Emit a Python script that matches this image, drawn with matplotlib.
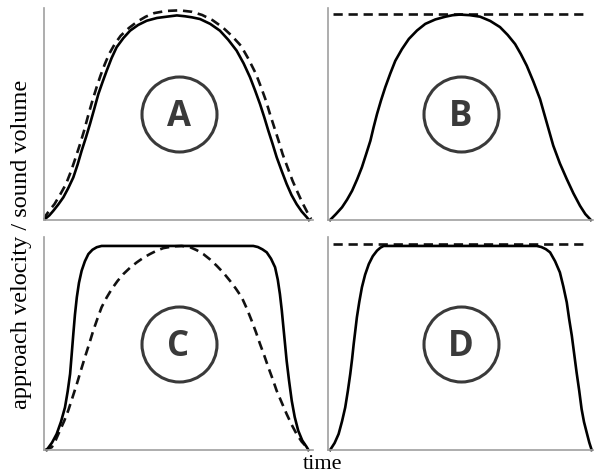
import matplotlib
matplotlib.use('Agg')
import matplotlib.pyplot as plt

# Courbes (temps 0-100, volume 0-100)
a_solid_t = [0.4, 2.0, 3.5, 5.3, 7.2, 9.0, 10.9, 12.5, 14.0, 15.6, 17.1, 18.7, 20.2, 21.8,
             23.3, 25.1, 27.0, 29.5, 32.0, 35.0, 38.2, 42.0, 45.6, 49.4, 52.4, 55.0, 58.0,
             61.8, 65.4, 68.5, 71.6, 74.2, 76.6, 78.5, 80.3, 81.9, 83.4, 85.0, 86.5, 88.4,
             90.2, 92.0, 93.9, 95.8, 97.7, 98.5]
a_solid_v = [0.5, 2.2, 4.4, 7.3, 10.7, 15.0, 20.1, 26.2, 32.7, 39.0, 45.3, 52.5, 59.4, 65.2,
             70.4, 76.3, 81.5, 85.8, 89.3, 92.0, 94.0, 95.3, 95.9, 96.5, 96.1, 95.6, 94.8,
             92.5, 89.3, 85.0, 79.9, 73.9, 67.3, 61.0, 54.7, 48.4, 42.1, 35.8, 29.6, 23.0,
             17.0, 11.8, 7.5, 4.0, 1.3, 0.0]
a_dash_t = [0.2, 0.6, 2.0, 3.9, 6.0, 8.2, 10.1, 11.8, 13.4, 14.9, 16.4, 18.0, 19.5, 21.0,
            22.6, 24.2, 26.3, 28.5, 31.5, 34.7, 37.8, 41.0, 45.3, 50.4, 55.0, 58.8, 62.6,
            66.4, 69.8, 73.2, 76.0, 78.8, 80.7, 82.5, 84.0, 85.6, 87.2, 88.7, 90.6, 92.4,
            94.3, 96.1, 97.9, 99.3]
a_dash_v = [0.0, 2.0, 4.5, 7.5, 12.0, 17.0, 23.2, 29.6, 35.8, 42.1, 49.2, 56.3, 62.4, 68.1,
            73.5, 78.3, 83.0, 86.9, 90.5, 93.6, 95.9, 97.6, 98.6, 98.9, 98.2, 96.7, 94.3,
            90.9, 86.9, 82.2, 76.0, 68.9, 62.6, 56.3, 50.0, 43.7, 37.4, 31.1, 24.6, 18.5,
            13.0, 8.0, 3.6, 0.5]

b_solid_t = [0.8, 3.0, 5.3, 7.2, 9.1, 11.0, 12.8, 14.4, 16.0, 17.2, 18.5, 20.0, 21.6, 23.5,
             25.4, 27.9, 30.5, 33.6, 36.7, 40.5, 44.3, 47.0, 49.8, 53.6, 57.4, 61.2, 64.9,
             67.8, 70.6, 72.8, 75.0, 77.5, 80.0, 82.5, 85.0, 87.5, 90.1, 92.6, 95.1, 97.1,
             99.2]
b_solid_v = [0.0, 2.8, 6.0, 9.6, 13.8, 19.2, 24.9, 31.1, 37.4, 43.7, 50.0, 56.4, 62.6, 69.1,
             75.1, 80.6, 85.4, 89.4, 92.5, 94.6, 95.9, 96.6, 96.9, 96.6, 95.9, 93.9, 91.0,
             87.3, 83.0, 78.2, 72.8, 65.3, 57.1, 46.1, 35.1, 26.7, 19.3, 12.6, 6.7, 2.8,
             0.0]
b_dash_t = [1.9, 98.1]
b_dash_v = [97.0, 97.0]

c_solid_t = [1.0, 3.0, 4.7, 6.3, 7.8, 8.8, 9.7, 10.3, 10.9, 11.5, 12.2, 13.0, 14.0, 15.2,
             16.5, 18.0, 19.6, 21.4, 77.8, 79.5, 81.2, 82.8, 84.4, 85.9, 86.9, 87.7, 88.4,
             89.0, 89.6, 90.2, 91.1, 92.1, 93.2, 94.5, 96.0, 97.7, 98.3]
c_solid_v = [0.0, 3.5, 7.5, 13.2, 20.0, 27.5, 35.7, 45.0, 54.5, 63.5, 71.7, 78.5, 84.2, 88.6,
             92.0, 94.0, 95.2, 95.8, 95.8, 95.3, 94.2, 92.8, 89.8, 85.8, 80.0, 73.2, 65.5,
             57.6, 49.8, 41.9, 32.5, 23.1, 15.5, 9.1, 4.5, 1.3, 0.0]
c_dash_t = [0.4, 2.9, 4.4, 5.9, 7.5, 9.0, 10.6, 12.2, 13.7, 15.2, 16.8, 18.3, 19.9, 21.4,
            23.3, 25.2, 27.3, 29.5, 32.0, 34.5, 37.0, 39.4, 41.9, 44.4, 48.1, 51.2, 54.3,
            56.8, 59.2, 61.7, 64.2, 66.7, 69.1, 71.3, 73.5, 75.4, 77.2, 78.8, 80.3, 81.9,
            83.4, 85.0, 86.5, 88.4, 90.2, 92.1, 93.9, 95.8, 97.7, 98.1]
c_dash_v = [0.0, 1.3, 4.8, 9.1, 13.6, 18.5, 24.7, 31.0, 37.3, 43.5, 49.8, 56.0, 61.8, 67.0,
            71.6, 75.6, 79.3, 82.6, 85.6, 88.1, 90.3, 92.0, 93.6, 94.8, 95.6, 95.8, 95.2,
            93.8, 92.0, 89.5, 86.5, 83.2, 79.5, 75.8, 71.7, 66.4, 60.7, 55.3, 49.8, 44.3,
            38.8, 33.3, 27.8, 22.2, 16.9, 11.8, 7.5, 3.9, 1.3, 0.0]

d_solid_t = [0.8, 2.5, 4.0, 5.3, 6.5, 7.5, 8.4, 9.1, 9.7, 10.3, 10.9, 11.8, 12.8, 14.0,
             15.4, 16.9, 18.5, 19.8, 21.0, 78.8, 80.5, 82.2, 83.8, 85.7, 87.5, 88.8, 90.1,
             91.0, 92.0, 92.9, 93.8, 94.8, 95.7, 96.6, 97.6, 98.6, 99.5]
d_solid_v = [0.0, 3.3, 7.5, 13.5, 20.0, 27.8, 35.7, 42.8, 49.8, 56.0, 62.3, 69.5, 76.4, 82.3,
             87.3, 91.0, 93.6, 95.0, 95.8, 95.8, 95.3, 94.3, 92.8, 88.6, 83.4, 76.8, 69.3,
             61.5, 53.7, 45.1, 36.5, 27.8, 19.2, 13.2, 8.3, 3.5, 0.0]
d_dash_t = [1.9, 98.1]
d_dash_v = [96.7, 96.7]

panel_letters = ['A', 'B', 'C', 'D']

W, H = 597, 477
fig = plt.figure(figsize=(W / 100, H / 100), dpi=100)


def make_axes(left, right, bottom, top):
    ax = fig.add_axes([left / W, 1 - bottom / H, (right - left) / W, (bottom - top) / H])
    ax.set_xlim(0, 100)
    ax.set_ylim(0, 100)
    ax.set_xticks([])
    ax.set_yticks([])
    for s in ['top', 'right']:
        ax.spines[s].set_visible(False)
    for s in ['left', 'bottom']:
        ax.spines[s].set_color('#a0a0a0')
        ax.spines[s].set_linewidth(1.2)
    ax.patch.set_alpha(0)
    return ax


def plot_panel(ax, solid_t, solid_v, dash_t, dash_v, letter):
    ax.plot(dash_t, dash_v, color='#111111', lw=1.9, linestyle=(0, (3.5, 2.2)),
            clip_on=False)
    ax.plot(solid_t, solid_v, color='#000000', lw=1.9, clip_on=False,
            solid_joinstyle='round')
    ax.plot([50], [50], 'o', ms=54, mfc='none', mec='#3a3a3a', mew=2.2)
    ax.text(50, 49, letter, ha='center', va='center', fontsize=25, fontweight='bold',
            family='Open Sans', color='#3a3a3a')


axs = [make_axes(44, 313, 221, 9), make_axes(328, 593, 221, 9),
       make_axes(44, 313, 451, 238), make_axes(328, 593, 451, 238)]

plot_panel(axs[0], a_solid_t, a_solid_v, a_dash_t, a_dash_v, panel_letters[0])
plot_panel(axs[1], b_solid_t, b_solid_v, b_dash_t, b_dash_v, panel_letters[1])
plot_panel(axs[2], c_solid_t, c_solid_v, c_dash_t, c_dash_v, panel_letters[2])
plot_panel(axs[3], d_solid_t, d_solid_v, d_dash_t, d_dash_v, panel_letters[3])

serif = ['Liberation Serif', 'DejaVu Serif']
fig.text(22 / W, 1 - 244 / H, 'approach velocity / sound volume', rotation=90,
         ha='center', va='center', fontsize=17.5, family=serif)
fig.text(323 / W, 1 - 465 / H, 'time', ha='center', va='center', fontsize=16,
         family=serif)

fig.savefig('out.png', dpi=100)
